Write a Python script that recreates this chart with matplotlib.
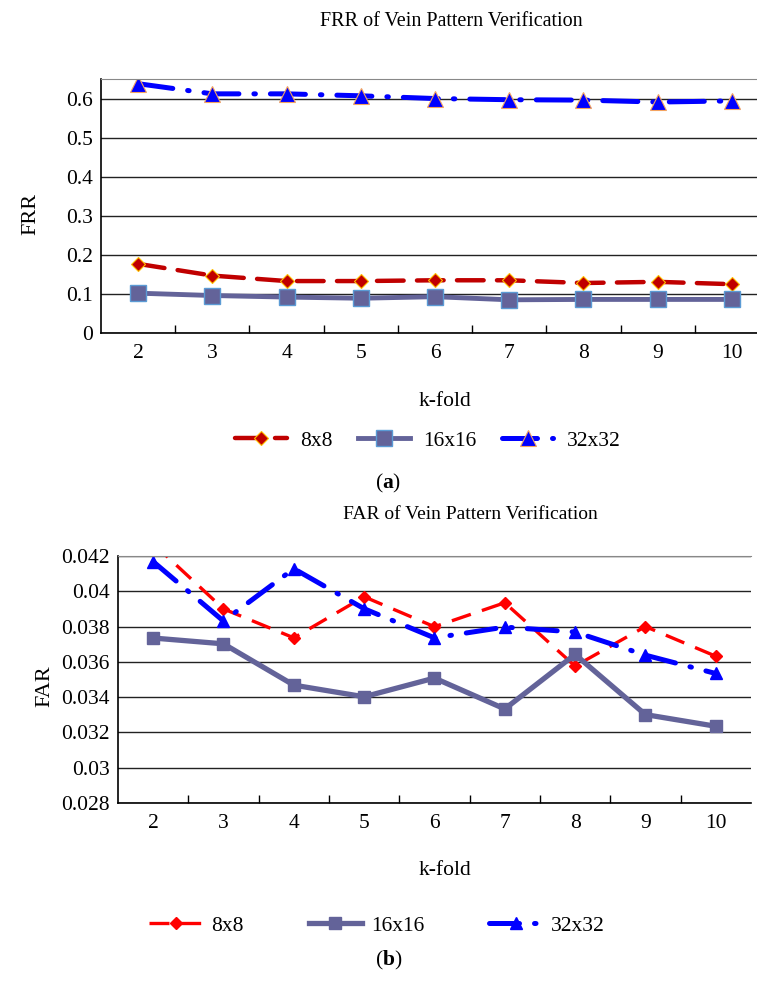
import matplotlib
matplotlib.use("Agg")
import matplotlib.pyplot as plt
from matplotlib.ticker import FixedLocator, NullFormatter

# k-fold values on the x axis
folds = [2, 3, 4, 5, 6, 7, 8, 9, 10]
series = ["8x8", "16x16", "32x32"]

# FRR values
frr_8 = [0.177, 0.147, 0.133, 0.133, 0.135, 0.135, 0.128, 0.131, 0.125]
frr_16 = [0.102, 0.096, 0.092, 0.089, 0.093, 0.085, 0.086, 0.086, 0.086]
frr_32 = [0.638, 0.612, 0.612, 0.607, 0.600, 0.597, 0.596, 0.591, 0.594]

# FAR values
far_8 = [0.0427, 0.0390, 0.03736, 0.03969, 0.03799, 0.03935, 0.03576, 0.0380, 0.03632]
far_16 = [0.03735, 0.03702, 0.03468, 0.03402, 0.03508, 0.03333, 0.03642, 0.03301, 0.03235]
far_32 = [0.04168, 0.03831, 0.04128, 0.03901, 0.03736, 0.03797, 0.03769, 0.03638, 0.03534]

frr_ticks = [0, 0.1, 0.2, 0.3, 0.4, 0.5, 0.6]
far_ticks = [0.028, 0.03, 0.032, 0.034, 0.036, 0.038, 0.04, 0.042]
frr_labels = ["0", "0.1", "0.2", "0.3", "0.4", "0.5", "0.6"]
far_labels = ["0.028", "0.03", "0.032", "0.034", "0.036", "0.038", "0.04", "0.042"]

plt.rcParams["font.family"] = ["Liberation Serif", "DejaVu Serif"]
plt.rcParams["mathtext.fontset"] = "custom"
plt.rcParams["mathtext.rm"] = "Liberation Serif"
plt.rcParams["mathtext.bf"] = "Liberation Serif:bold"
PURPLE = "#636399"


def style_axes(ax, ymin, ymax, yticks, ylabels):
    ax.set_xlim(1.5, 10.5)
    ax.set_ylim(ymin, ymax)
    ax.set_yticks(yticks)
    ax.set_yticklabels(ylabels, fontsize=15.5)
    ax.set_xticks(folds)
    ax.set_xticklabels([str(f) for f in folds], fontsize=15.5)
    ax.xaxis.set_minor_locator(FixedLocator([f + 0.5 for f in folds[:-1]]))
    ax.xaxis.set_minor_formatter(NullFormatter())
    ax.tick_params(axis="x", which="major", length=0, pad=8)
    ax.tick_params(axis="x", which="minor", direction="in", length=6, width=1)
    ax.tick_params(axis="y", length=0, pad=6)
    ax.yaxis.grid(True, color="#222222", linewidth=1)
    ax.set_axisbelow(True)
    ax.spines["top"].set_color("#888888")
    ax.spines["right"].set_visible(False)
    ax.spines["left"].set_linewidth(1.2)
    ax.spines["bottom"].set_linewidth(1.2)


fig = plt.figure(figsize=(7.57, 9.90), dpi=100)

# panel (a)
ax1 = fig.add_axes([0.1334, 0.6636, 0.8824, 0.2566])
ax1.plot(folds, frr_8, color="#C00000", linestyle=(0, (6, 3)), linewidth=3.2,
         marker="D", markersize=7, markerfacecolor="#C00000",
         markeredgecolor="#FFC000", markeredgewidth=0.8, label=series[0],
         dash_capstyle="round")
ax1.plot(folds, frr_16, color=PURPLE, linestyle="-", linewidth=3.5,
         marker="s", markersize=12, markerfacecolor=PURPLE,
         markeredgecolor="#5B9BD5", markeredgewidth=1.0, label=series[1])
ax1.plot(folds, frr_32, color="#0000FF", linestyle=(0, (7, 3, 0.3, 3)),
         linewidth=3.6, dash_capstyle="round",
         marker="^", markersize=11, markerfacecolor="#0000FF",
         markeredgecolor="#F4A460", markeredgewidth=0.8, label=series[2])
style_axes(ax1, 0, 0.65, frr_ticks, frr_labels)
ax1.set_ylabel("FRR", fontsize=16)
ax1.yaxis.set_label_coords(-0.09, 0.47)
fig.text(0.588, 0.594, "k-fold", ha="center", va="center", fontsize=15.5)
fig.text(0.596, 0.978, "FRR of Vein Pattern Verification", ha="center",
         va="center", fontsize=14.5)
fig.legend(handles=ax1.get_lines(), labels=series, loc="center",
           bbox_to_anchor=(0.565, 0.555), ncol=3, frameon=False, fontsize=15.5,
           handlelength=2.4, columnspacing=1.2, handletextpad=0.6)
fig.text(0.513, 0.512, r"($\mathbf{a}$)", ha="center", va="center",
         fontsize=15.5)

# panel (b)
ax2 = fig.add_axes([0.1559, 0.1889, 0.836, 0.2495])
ax2.plot(folds, far_8, color="#FF0000", linestyle=(0, (6, 3.5)), linewidth=2.4,
         marker="D", markersize=6, markerfacecolor="#FF0000",
         markeredgecolor="#FF0000", label=series[0])
ax2.plot(folds, far_16, color=PURPLE, linestyle="-", linewidth=3.8,
         marker="s", markersize=9, markerfacecolor=PURPLE,
         markeredgecolor=PURPLE, label=series[1])
ax2.plot(folds, far_32, color="#0000FF", linestyle=(0, (6, 3, 0.3, 3)),
         linewidth=3.6, dash_capstyle="round",
         marker="^", markersize=9, markerfacecolor="#0000FF",
         markeredgecolor="#0000FF", label=series[2])
style_axes(ax2, 0.028, 0.042, far_ticks, far_labels)
ax2.set_ylabel("FAR", fontsize=16)
ax2.yaxis.set_label_coords(-0.1, 0.474)
fig.text(0.588, 0.121, "k-fold", ha="center", va="center", fontsize=15.5)
fig.text(0.622, 0.48, "FAR of Vein Pattern Verification", ha="center",
         va="center", fontsize=14)
fig.legend(handles=ax2.get_lines(), labels=series, loc="center",
           bbox_to_anchor=(0.498, 0.065), ncol=3, frameon=False, fontsize=15.5,
           handlelength=2.5, columnspacing=3.0, handletextpad=0.4)
fig.text(0.513, 0.03, r"($\mathbf{b}$)", ha="center", va="center",
         fontsize=15.5)

fig.savefig("out.png", dpi=100)
